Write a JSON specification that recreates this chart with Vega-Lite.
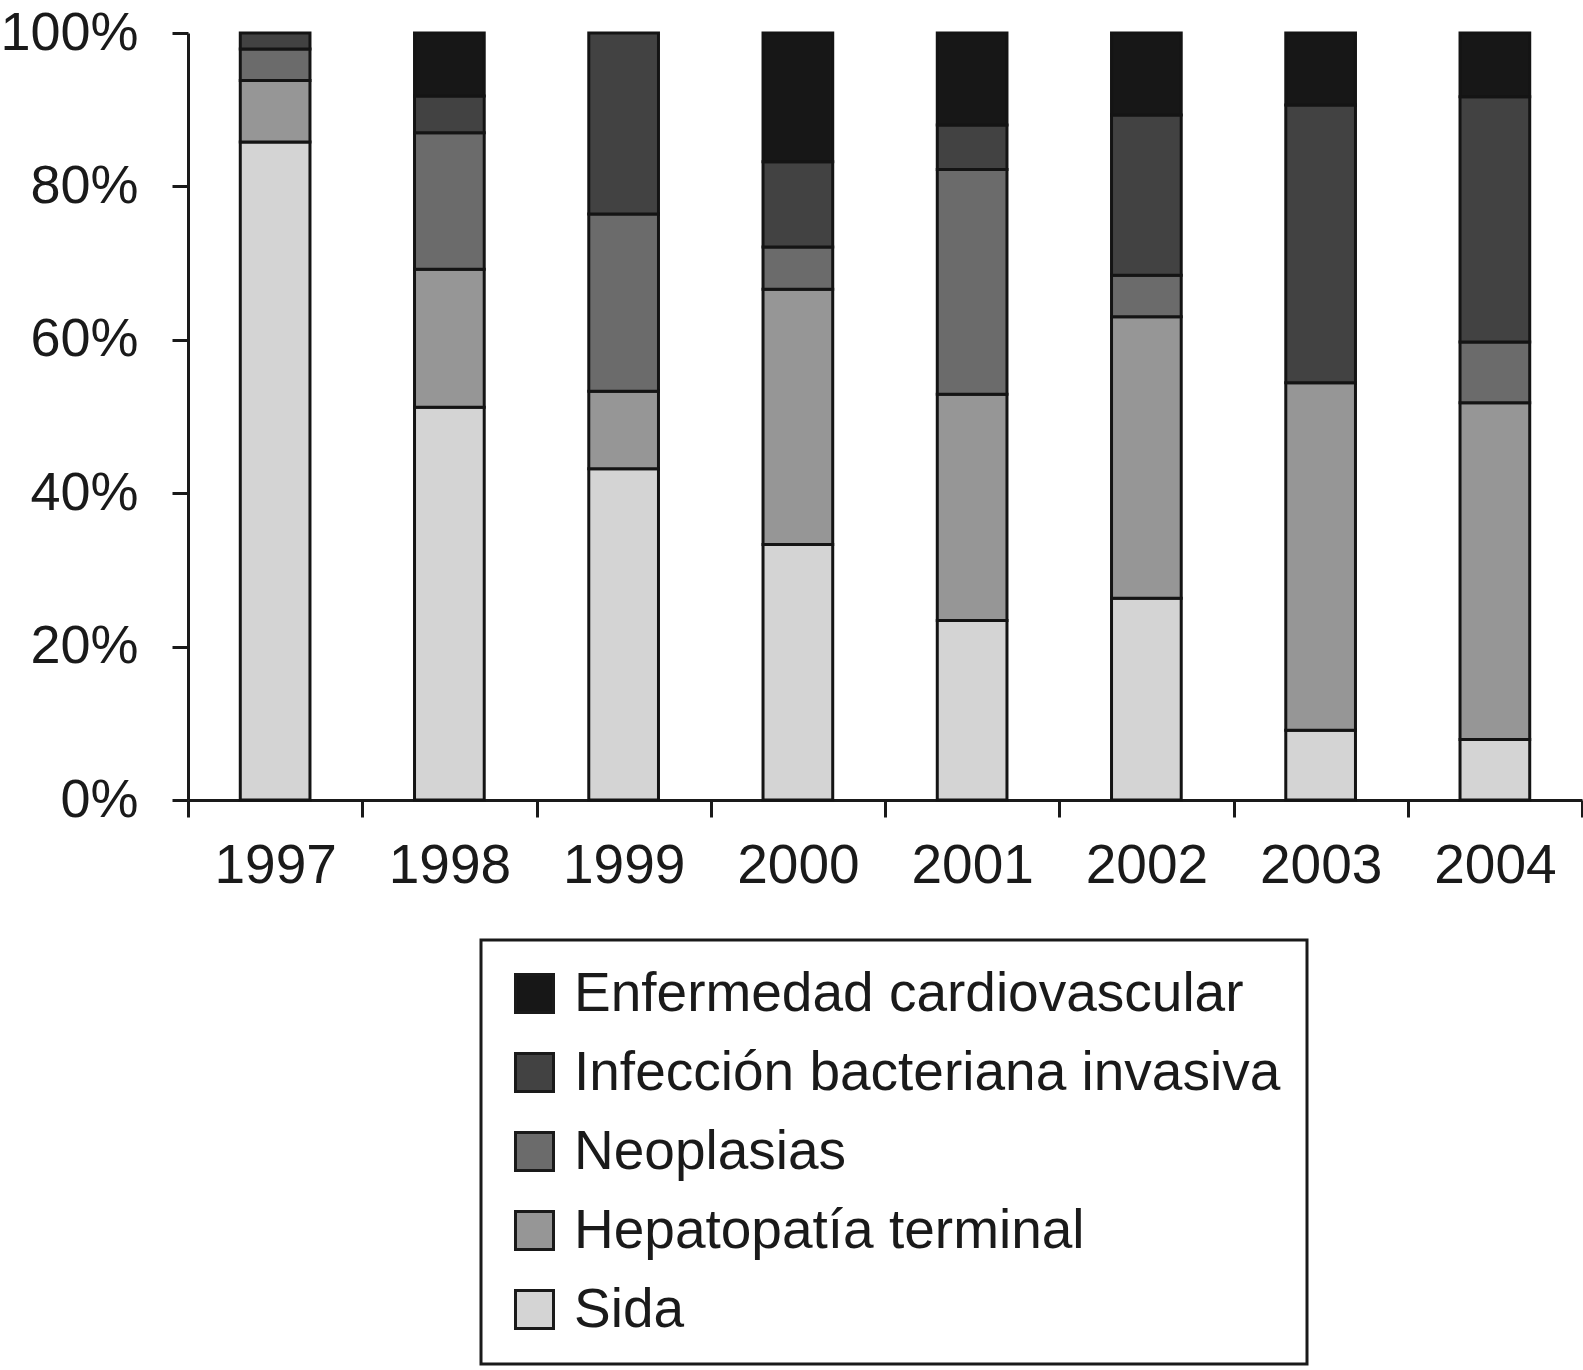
{
  "$schema": "https://vega.github.io/schema/vega-lite/v6.json",
  "autosize": "none",
  "width": 1394,
  "height": 767,
  "padding": {"left": 188, "top": 33, "right": 1, "bottom": 570},
  "background": "white",
  "config": {
    "view": {"stroke": null},
    "font": "Liberation Sans",
    "legend": {"strokeWidth": 3}
  },
  "data": {
    "values": [
      {"year": "1997", "cause": "Sida", "pct": 85.8},
      {"year": "1997", "cause": "Hepatopatía terminal", "pct": 8.0},
      {"year": "1997", "cause": "Neoplasias", "pct": 4.1},
      {"year": "1997", "cause": "Infección bacteriana invasiva", "pct": 2.1},
      {"year": "1998", "cause": "Sida", "pct": 51.2},
      {"year": "1998", "cause": "Hepatopatía terminal", "pct": 18.0},
      {"year": "1998", "cause": "Neoplasias", "pct": 17.8},
      {"year": "1998", "cause": "Infección bacteriana invasiva", "pct": 4.8},
      {"year": "1998", "cause": "Enfermedad cardiovascular", "pct": 8.2},
      {"year": "1999", "cause": "Sida", "pct": 43.2},
      {"year": "1999", "cause": "Hepatopatía terminal", "pct": 10.1},
      {"year": "1999", "cause": "Neoplasias", "pct": 23.1},
      {"year": "1999", "cause": "Infección bacteriana invasiva", "pct": 23.6},
      {"year": "2000", "cause": "Sida", "pct": 33.3},
      {"year": "2000", "cause": "Hepatopatía terminal", "pct": 33.3},
      {"year": "2000", "cause": "Neoplasias", "pct": 5.5},
      {"year": "2000", "cause": "Infección bacteriana invasiva", "pct": 11.1},
      {"year": "2000", "cause": "Enfermedad cardiovascular", "pct": 16.8},
      {"year": "2001", "cause": "Sida", "pct": 23.4},
      {"year": "2001", "cause": "Hepatopatía terminal", "pct": 29.5},
      {"year": "2001", "cause": "Neoplasias", "pct": 29.3},
      {"year": "2001", "cause": "Infección bacteriana invasiva", "pct": 5.8},
      {"year": "2001", "cause": "Enfermedad cardiovascular", "pct": 12.0},
      {"year": "2002", "cause": "Sida", "pct": 26.3},
      {"year": "2002", "cause": "Hepatopatía terminal", "pct": 36.7},
      {"year": "2002", "cause": "Neoplasias", "pct": 5.4},
      {"year": "2002", "cause": "Infección bacteriana invasiva", "pct": 20.9},
      {"year": "2002", "cause": "Enfermedad cardiovascular", "pct": 10.7},
      {"year": "2003", "cause": "Sida", "pct": 9.1},
      {"year": "2003", "cause": "Hepatopatía terminal", "pct": 45.3},
      {"year": "2003", "cause": "Infección bacteriana invasiva", "pct": 36.2},
      {"year": "2003", "cause": "Enfermedad cardiovascular", "pct": 9.4},
      {"year": "2004", "cause": "Sida", "pct": 7.9},
      {"year": "2004", "cause": "Hepatopatía terminal", "pct": 43.9},
      {"year": "2004", "cause": "Neoplasias", "pct": 7.9},
      {"year": "2004", "cause": "Infección bacteriana invasiva", "pct": 32.0},
      {"year": "2004", "cause": "Enfermedad cardiovascular", "pct": 8.3}
    ]
  },
  "transform": [
    {"calculate": "indexof(['Sida', 'Hepatopatía terminal', 'Neoplasias', 'Infección bacteriana invasiva', 'Enfermedad cardiovascular'], datum.cause)", "as": "stack_rank"}
  ],
  "mark": {"type": "bar", "stroke": "#141414", "strokeWidth": 3, "width": {"band": 0.4}},
  "encoding": {
    "x": {
      "field": "year",
      "type": "ordinal",
      "title": null,
      "scale": {"paddingInner": 0, "paddingOuter": 0},
      "axis": {
        "labelAngle": 0,
        "labelFontSize": 55,
        "labelColor": "#1a1a1a",
        "labelPadding": 22,
        "tickBand": "extent",
        "tickSize": 17,
        "tickWidth": 3,
        "tickColor": "#1a1a1a",
        "domainWidth": 3,
        "domainColor": "#1a1a1a"
      }
    },
    "y": {
      "field": "pct",
      "type": "quantitative",
      "stack": "normalize",
      "title": null,
      "scale": {"domain": [0, 1]},
      "axis": {
        "values": [0, 0.2, 0.4, 0.6, 0.8, 1],
        "format": ".0%",
        "grid": false,
        "labelFontSize": 54,
        "labelColor": "#1a1a1a",
        "labelPadding": 34,
        "tickSize": 16,
        "tickWidth": 3,
        "tickColor": "#1a1a1a",
        "domainWidth": 3,
        "domainColor": "#1a1a1a"
      }
    },
    "order": {"field": "stack_rank", "type": "quantitative", "sort": "ascending"},
    "color": {
      "field": "cause",
      "type": "nominal",
      "sort": ["Enfermedad cardiovascular", "Infección bacteriana invasiva", "Neoplasias", "Hepatopatía terminal", "Sida"],
      "scale": {
        "domain": ["Enfermedad cardiovascular", "Infección bacteriana invasiva", "Neoplasias", "Hepatopatía terminal", "Sida"],
        "range": ["#171717", "#424242", "#6b6b6b", "#969696", "#d4d4d4"]
      },
      "legend": {
        "title": null,
        "orient": "none",
        "legendX": 293,
        "legendY": 907,
        "direction": "vertical",
        "padding": 26,
        "strokeColor": "#1a1a1a",
        "symbolType": "square",
        "symbolSize": 1444,
        "symbolStrokeColor": "#1a1a1a",
        "symbolStrokeWidth": 3,
        "symbolOpacity": 1,
        "labelFontSize": 55,
        "labelColor": "#1a1a1a",
        "labelLimit": 1000,
        "labelOffset": 12,
        "rowPadding": 23
      }
    }
  }
}
